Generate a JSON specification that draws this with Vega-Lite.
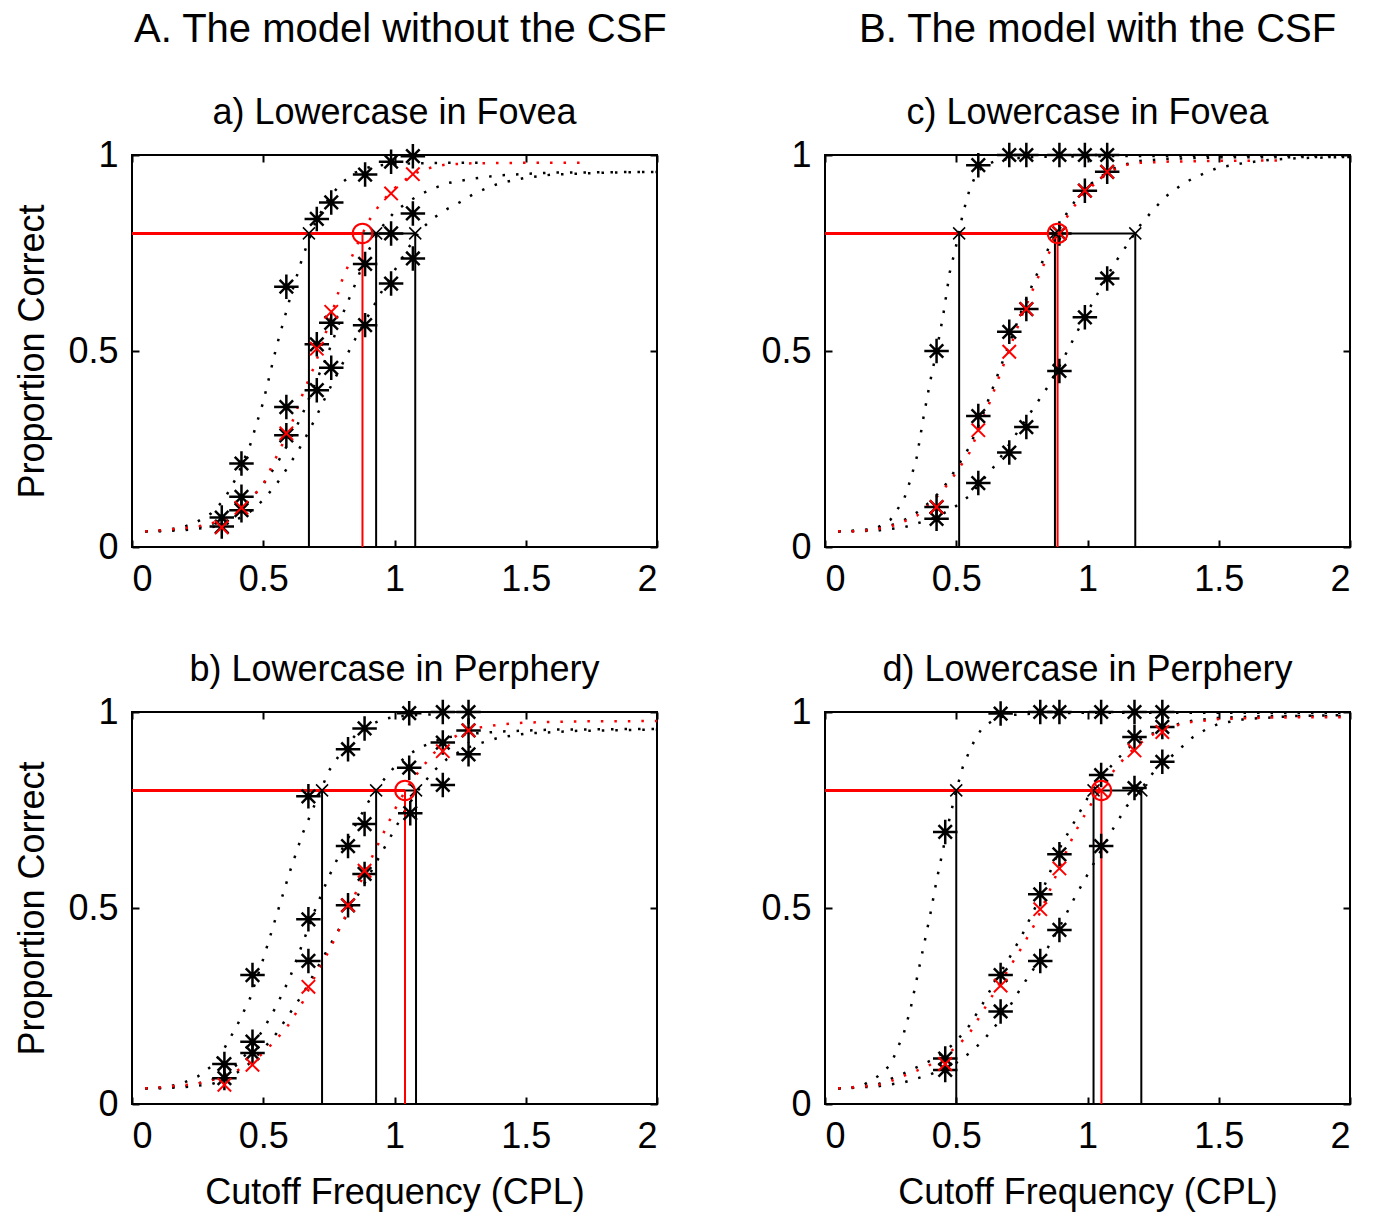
{
  "$schema": "https://vega.github.io/schema/vega-lite/v6.json",
  "background": "white",
  "padding": {"left": 13, "top": 10, "right": 10, "bottom": 3},
  "config": {
    "font": "Liberation Sans",
    "view": {"stroke": "black", "strokeWidth": 2},
    "axis": {"grid": false, "domain": false, "tickSize": -7, "tickColor": "black", "tickWidth": 2, "labelFontSize": 36, "labelColor": "black", "labelFont": "Liberation Sans", "titleFont": "Liberation Sans", "titleFontSize": 36, "titleFontWeight": "normal", "titleColor": "black", "format": "~g"},
    "axisX": {"labelPadding": 22, "titlePadding": 21},
    "axisY": {"labelPadding": 21, "titlePadding": 16},
    "title": {"fontSize": 36, "fontWeight": "normal", "color": "black", "font": "Liberation Sans", "offset": 5}
  },
  "datasets": {
    "thr": [
      {"p":"a","c":"k","x":0.674,"base":0,"crit":0.8},{"p":"a","c":"k","x":0.93,"base":0,"crit":0.8},{"p":"a","c":"k","x":1.079,"base":0,"crit":0.8},{"p":"a","c":"r","x":0.878,"base":0,"crit":0.8},
      {"p":"b","c":"k","x":0.724,"base":0,"crit":0.8},{"p":"b","c":"k","x":0.93,"base":0,"crit":0.8},{"p":"b","c":"k","x":1.082,"base":0,"crit":0.8},{"p":"b","c":"r","x":1.04,"base":0,"crit":0.8},
      {"p":"c","c":"k","x":0.511,"base":0,"crit":0.8},{"p":"c","c":"k","x":0.876,"base":0,"crit":0.8},{"p":"c","c":"k","x":1.182,"base":0,"crit":0.8},{"p":"c","c":"r","x":0.886,"base":0,"crit":0.8},
      {"p":"d","c":"k","x":0.5,"base":0,"crit":0.8},{"p":"d","c":"k","x":1.023,"base":0,"crit":0.8},{"p":"d","c":"k","x":1.205,"base":0,"crit":0.8},{"p":"d","c":"r","x":1.053,"base":0,"crit":0.8}
    ],
    "pts": [
      {"p":"a","c":"k","x":0.342,"y":0.075},{"p":"a","c":"k","x":0.342,"y":0.052},
      {"p":"a","c":"k","x":0.417,"y":0.213},{"p":"a","c":"k","x":0.417,"y":0.128},{"p":"a","c":"k","x":0.417,"y":0.094},
      {"p":"a","c":"k","x":0.588,"y":0.664},{"p":"a","c":"k","x":0.588,"y":0.357},{"p":"a","c":"k","x":0.588,"y":0.285},
      {"p":"a","c":"k","x":0.704,"y":0.837},{"p":"a","c":"k","x":0.704,"y":0.517},{"p":"a","c":"k","x":0.704,"y":0.4},
      {"p":"a","c":"k","x":0.759,"y":0.879},{"p":"a","c":"k","x":0.759,"y":0.572},{"p":"a","c":"k","x":0.759,"y":0.457},
      {"p":"a","c":"k","x":0.888,"y":0.95},{"p":"a","c":"k","x":0.888,"y":0.722},{"p":"a","c":"k","x":0.888,"y":0.566},
      {"p":"a","c":"k","x":0.987,"y":0.983},{"p":"a","c":"k","x":0.987,"y":0.8},{"p":"a","c":"k","x":0.987,"y":0.672},
      {"p":"a","c":"k","x":1.07,"y":0.997},{"p":"a","c":"k","x":1.07,"y":0.851},{"p":"a","c":"k","x":1.07,"y":0.736},
      {"p":"a","c":"r","x":0.342,"y":0.05},{"p":"a","c":"r","x":0.417,"y":0.1},{"p":"a","c":"r","x":0.588,"y":0.29},{"p":"a","c":"r","x":0.704,"y":0.506},{"p":"a","c":"r","x":0.759,"y":0.6},{"p":"a","c":"r","x":0.987,"y":0.902},{"p":"a","c":"r","x":1.07,"y":0.951},
      {"p":"b","c":"k","x":0.352,"y":0.102},{"p":"b","c":"k","x":0.352,"y":0.066},
      {"p":"b","c":"k","x":0.459,"y":0.329},{"p":"b","c":"k","x":0.459,"y":0.159},{"p":"b","c":"k","x":0.459,"y":0.13},
      {"p":"b","c":"k","x":0.672,"y":0.785},{"p":"b","c":"k","x":0.672,"y":0.471},{"p":"b","c":"k","x":0.672,"y":0.365},
      {"p":"b","c":"k","x":0.823,"y":0.905},{"p":"b","c":"k","x":0.823,"y":0.658},{"p":"b","c":"k","x":0.823,"y":0.507},
      {"p":"b","c":"k","x":0.886,"y":0.958},{"p":"b","c":"k","x":0.886,"y":0.714},{"p":"b","c":"k","x":0.886,"y":0.587},
      {"p":"b","c":"k","x":1.056,"y":0.997},{"p":"b","c":"k","x":1.056,"y":0.858},{"p":"b","c":"k","x":1.06,"y":0.742},
      {"p":"b","c":"k","x":1.184,"y":1.0},{"p":"b","c":"k","x":1.184,"y":0.922},{"p":"b","c":"k","x":1.184,"y":0.814},
      {"p":"b","c":"k","x":1.282,"y":1.0},{"p":"b","c":"k","x":1.282,"y":0.953},{"p":"b","c":"k","x":1.282,"y":0.892},
      {"p":"b","c":"r","x":0.352,"y":0.049},{"p":"b","c":"r","x":0.459,"y":0.1},{"p":"b","c":"r","x":0.672,"y":0.299},{"p":"b","c":"r","x":0.823,"y":0.507},{"p":"b","c":"r","x":0.886,"y":0.595},{"p":"b","c":"r","x":1.184,"y":0.9},{"p":"b","c":"r","x":1.282,"y":0.953},
      {"p":"c","c":"k","x":0.425,"y":0.5},{"p":"c","c":"k","x":0.425,"y":0.102},{"p":"c","c":"k","x":0.425,"y":0.072},
      {"p":"c","c":"k","x":0.584,"y":0.974},{"p":"c","c":"k","x":0.584,"y":0.334},{"p":"c","c":"k","x":0.584,"y":0.163},
      {"p":"c","c":"k","x":0.702,"y":1.0},{"p":"c","c":"k","x":0.702,"y":0.549},{"p":"c","c":"k","x":0.702,"y":0.241},
      {"p":"c","c":"k","x":0.767,"y":1.0},{"p":"c","c":"k","x":0.767,"y":0.607},{"p":"c","c":"k","x":0.767,"y":0.306},
      {"p":"c","c":"k","x":0.893,"y":1.0},{"p":"c","c":"k","x":0.893,"y":0.8},{"p":"c","c":"k","x":0.893,"y":0.449},
      {"p":"c","c":"k","x":0.99,"y":1.0},{"p":"c","c":"k","x":0.99,"y":0.909},{"p":"c","c":"k","x":0.99,"y":0.586},
      {"p":"c","c":"k","x":1.075,"y":1.0},{"p":"c","c":"k","x":1.075,"y":0.957},{"p":"c","c":"k","x":1.075,"y":0.685},
      {"p":"c","c":"r","x":0.425,"y":0.102},{"p":"c","c":"r","x":0.584,"y":0.298},{"p":"c","c":"r","x":0.702,"y":0.498},{"p":"c","c":"r","x":0.767,"y":0.607},{"p":"c","c":"r","x":0.893,"y":0.8},{"p":"c","c":"r","x":0.99,"y":0.909},{"p":"c","c":"r","x":1.075,"y":0.957},
      {"p":"d","c":"k","x":0.458,"y":0.694},{"p":"d","c":"k","x":0.458,"y":0.116},{"p":"d","c":"k","x":0.458,"y":0.087},
      {"p":"d","c":"k","x":0.669,"y":0.996},{"p":"d","c":"k","x":0.669,"y":0.329},{"p":"d","c":"k","x":0.669,"y":0.236},
      {"p":"d","c":"k","x":0.82,"y":1.0},{"p":"d","c":"k","x":0.82,"y":0.535},{"p":"d","c":"k","x":0.82,"y":0.365},
      {"p":"d","c":"k","x":0.893,"y":1.0},{"p":"d","c":"k","x":0.893,"y":0.637},{"p":"d","c":"k","x":0.893,"y":0.444},
      {"p":"d","c":"k","x":1.052,"y":1.0},{"p":"d","c":"k","x":1.052,"y":0.839},{"p":"d","c":"k","x":1.052,"y":0.658},
      {"p":"d","c":"k","x":1.179,"y":1.0},{"p":"d","c":"k","x":1.179,"y":0.936},{"p":"d","c":"k","x":1.179,"y":0.806},
      {"p":"d","c":"k","x":1.285,"y":1.0},{"p":"d","c":"k","x":1.285,"y":0.962},{"p":"d","c":"k","x":1.285,"y":0.873},
      {"p":"d","c":"r","x":0.458,"y":0.102},{"p":"d","c":"r","x":0.669,"y":0.302},{"p":"d","c":"r","x":0.82,"y":0.497},{"p":"d","c":"r","x":0.893,"y":0.601},{"p":"d","c":"r","x":1.052,"y":0.8},{"p":"d","c":"r","x":1.179,"y":0.902},{"p":"d","c":"r","x":1.285,"y":0.949}
    ],
    "curves": [
      {"p":"a","s":"A","x":0.05,"y":0.04},{"p":"a","s":"A","x":0.1,"y":0.042},{"p":"a","s":"A","x":0.15,"y":0.046},{"p":"a","s":"A","x":0.2,"y":0.052},{"p":"a","s":"A","x":0.25,"y":0.065},{"p":"a","s":"A","x":0.3,"y":0.085},{"p":"a","s":"A","x":0.35,"y":0.12},{"p":"a","s":"A","x":0.4,"y":0.18},{"p":"a","s":"A","x":0.45,"y":0.26},{"p":"a","s":"A","x":0.5,"y":0.37},{"p":"a","s":"A","x":0.55,"y":0.51},{"p":"a","s":"A","x":0.6,"y":0.63},{"p":"a","s":"A","x":0.65,"y":0.74},{"p":"a","s":"A","x":0.7,"y":0.83},{"p":"a","s":"A","x":0.75,"y":0.89},{"p":"a","s":"A","x":0.8,"y":0.93},{"p":"a","s":"A","x":0.85,"y":0.955},{"p":"a","s":"A","x":0.9,"y":0.968},{"p":"a","s":"A","x":0.95,"y":0.974},{"p":"a","s":"A","x":1.0,"y":0.977},{"p":"a","s":"A","x":1.1,"y":0.979},{"p":"a","s":"A","x":1.2,"y":0.98},{"p":"a","s":"A","x":1.35,"y":0.98},
      {"p":"a","s":"B","x":0.05,"y":0.04},{"p":"a","s":"B","x":0.1,"y":0.041},{"p":"a","s":"B","x":0.15,"y":0.043},{"p":"a","s":"B","x":0.2,"y":0.046},{"p":"a","s":"B","x":0.25,"y":0.05},{"p":"a","s":"B","x":0.3,"y":0.058},{"p":"a","s":"B","x":0.35,"y":0.07},{"p":"a","s":"B","x":0.4,"y":0.09},{"p":"a","s":"B","x":0.45,"y":0.12},{"p":"a","s":"B","x":0.5,"y":0.16},{"p":"a","s":"B","x":0.55,"y":0.21},{"p":"a","s":"B","x":0.6,"y":0.27},{"p":"a","s":"B","x":0.65,"y":0.34},{"p":"a","s":"B","x":0.7,"y":0.42},{"p":"a","s":"B","x":0.75,"y":0.5},{"p":"a","s":"B","x":0.8,"y":0.59},{"p":"a","s":"B","x":0.85,"y":0.67},{"p":"a","s":"B","x":0.9,"y":0.755},{"p":"a","s":"B","x":0.95,"y":0.815},{"p":"a","s":"B","x":1.0,"y":0.855},{"p":"a","s":"B","x":1.05,"y":0.88},{"p":"a","s":"B","x":1.1,"y":0.9},{"p":"a","s":"B","x":1.15,"y":0.915},{"p":"a","s":"B","x":1.2,"y":0.928},{"p":"a","s":"B","x":1.3,"y":0.94},{"p":"a","s":"B","x":1.4,"y":0.948},{"p":"a","s":"B","x":1.5,"y":0.952},{"p":"a","s":"B","x":1.6,"y":0.955},{"p":"a","s":"B","x":1.8,"y":0.956},{"p":"a","s":"B","x":2.0,"y":0.957},
      {"p":"a","s":"C","x":0.05,"y":0.04},{"p":"a","s":"C","x":0.1,"y":0.04},{"p":"a","s":"C","x":0.2,"y":0.043},{"p":"a","s":"C","x":0.3,"y":0.05},{"p":"a","s":"C","x":0.35,"y":0.058},{"p":"a","s":"C","x":0.4,"y":0.07},{"p":"a","s":"C","x":0.45,"y":0.09},{"p":"a","s":"C","x":0.5,"y":0.12},{"p":"a","s":"C","x":0.55,"y":0.16},{"p":"a","s":"C","x":0.6,"y":0.21},{"p":"a","s":"C","x":0.65,"y":0.265},{"p":"a","s":"C","x":0.7,"y":0.33},{"p":"a","s":"C","x":0.75,"y":0.4},{"p":"a","s":"C","x":0.8,"y":0.465},{"p":"a","s":"C","x":0.85,"y":0.53},{"p":"a","s":"C","x":0.9,"y":0.59},{"p":"a","s":"C","x":0.95,"y":0.65},{"p":"a","s":"C","x":1.0,"y":0.705},{"p":"a","s":"C","x":1.05,"y":0.76},{"p":"a","s":"C","x":1.1,"y":0.81},{"p":"a","s":"C","x":1.15,"y":0.84},{"p":"a","s":"C","x":1.2,"y":0.862},{"p":"a","s":"C","x":1.25,"y":0.88},{"p":"a","s":"C","x":1.3,"y":0.9},{"p":"a","s":"C","x":1.35,"y":0.915},{"p":"a","s":"C","x":1.4,"y":0.928},{"p":"a","s":"C","x":1.5,"y":0.942},{"p":"a","s":"C","x":1.6,"y":0.95},{"p":"a","s":"C","x":1.8,"y":0.955},{"p":"a","s":"C","x":2.0,"y":0.957},
      {"p":"a","s":"R","x":0.05,"y":0.04},{"p":"a","s":"R","x":0.1,"y":0.042},{"p":"a","s":"R","x":0.15,"y":0.045},{"p":"a","s":"R","x":0.2,"y":0.048},{"p":"a","s":"R","x":0.25,"y":0.052},{"p":"a","s":"R","x":0.3,"y":0.06},{"p":"a","s":"R","x":0.35,"y":0.07},{"p":"a","s":"R","x":0.4,"y":0.09},{"p":"a","s":"R","x":0.45,"y":0.12},{"p":"a","s":"R","x":0.5,"y":0.16},{"p":"a","s":"R","x":0.55,"y":0.23},{"p":"a","s":"R","x":0.6,"y":0.3},{"p":"a","s":"R","x":0.65,"y":0.39},{"p":"a","s":"R","x":0.7,"y":0.47},{"p":"a","s":"R","x":0.75,"y":0.57},{"p":"a","s":"R","x":0.8,"y":0.68},{"p":"a","s":"R","x":0.85,"y":0.76},{"p":"a","s":"R","x":0.9,"y":0.83},{"p":"a","s":"R","x":0.95,"y":0.88},{"p":"a","s":"R","x":1.0,"y":0.915},{"p":"a","s":"R","x":1.05,"y":0.942},{"p":"a","s":"R","x":1.1,"y":0.96},{"p":"a","s":"R","x":1.15,"y":0.97},{"p":"a","s":"R","x":1.2,"y":0.976},{"p":"a","s":"R","x":1.3,"y":0.979},{"p":"a","s":"R","x":1.5,"y":0.98},{"p":"a","s":"R","x":1.72,"y":0.98},
      {"p":"b","s":"A","x":0.05,"y":0.04},{"p":"b","s":"A","x":0.1,"y":0.042},{"p":"b","s":"A","x":0.15,"y":0.046},{"p":"b","s":"A","x":0.2,"y":0.055},{"p":"b","s":"A","x":0.25,"y":0.07},{"p":"b","s":"A","x":0.3,"y":0.095},{"p":"b","s":"A","x":0.35,"y":0.14},{"p":"b","s":"A","x":0.4,"y":0.2},{"p":"b","s":"A","x":0.45,"y":0.27},{"p":"b","s":"A","x":0.5,"y":0.37},{"p":"b","s":"A","x":0.55,"y":0.48},{"p":"b","s":"A","x":0.6,"y":0.59},{"p":"b","s":"A","x":0.65,"y":0.69},{"p":"b","s":"A","x":0.7,"y":0.77},{"p":"b","s":"A","x":0.75,"y":0.85},{"p":"b","s":"A","x":0.8,"y":0.9},{"p":"b","s":"A","x":0.85,"y":0.94},{"p":"b","s":"A","x":0.9,"y":0.965},{"p":"b","s":"A","x":0.95,"y":0.98},{"p":"b","s":"A","x":1.0,"y":0.988},{"p":"b","s":"A","x":1.1,"y":0.993},{"p":"b","s":"A","x":1.2,"y":0.995},
      {"p":"b","s":"B","x":0.05,"y":0.04},{"p":"b","s":"B","x":0.1,"y":0.041},{"p":"b","s":"B","x":0.2,"y":0.045},{"p":"b","s":"B","x":0.3,"y":0.06},{"p":"b","s":"B","x":0.35,"y":0.075},{"p":"b","s":"B","x":0.4,"y":0.1},{"p":"b","s":"B","x":0.45,"y":0.14},{"p":"b","s":"B","x":0.5,"y":0.19},{"p":"b","s":"B","x":0.55,"y":0.25},{"p":"b","s":"B","x":0.6,"y":0.32},{"p":"b","s":"B","x":0.65,"y":0.41},{"p":"b","s":"B","x":0.7,"y":0.5},{"p":"b","s":"B","x":0.75,"y":0.58},{"p":"b","s":"B","x":0.8,"y":0.65},{"p":"b","s":"B","x":0.85,"y":0.71},{"p":"b","s":"B","x":0.9,"y":0.77},{"p":"b","s":"B","x":0.95,"y":0.82},{"p":"b","s":"B","x":1.0,"y":0.86},{"p":"b","s":"B","x":1.05,"y":0.89},{"p":"b","s":"B","x":1.1,"y":0.91},{"p":"b","s":"B","x":1.15,"y":0.925},{"p":"b","s":"B","x":1.2,"y":0.935},{"p":"b","s":"B","x":1.3,"y":0.945},{"p":"b","s":"B","x":1.4,"y":0.95},{"p":"b","s":"B","x":1.6,"y":0.955},{"p":"b","s":"B","x":2.0,"y":0.957},
      {"p":"b","s":"C","x":0.05,"y":0.04},{"p":"b","s":"C","x":0.1,"y":0.04},{"p":"b","s":"C","x":0.2,"y":0.043},{"p":"b","s":"C","x":0.3,"y":0.05},{"p":"b","s":"C","x":0.35,"y":0.062},{"p":"b","s":"C","x":0.4,"y":0.08},{"p":"b","s":"C","x":0.45,"y":0.105},{"p":"b","s":"C","x":0.5,"y":0.14},{"p":"b","s":"C","x":0.55,"y":0.18},{"p":"b","s":"C","x":0.6,"y":0.23},{"p":"b","s":"C","x":0.65,"y":0.28},{"p":"b","s":"C","x":0.7,"y":0.34},{"p":"b","s":"C","x":0.75,"y":0.4},{"p":"b","s":"C","x":0.8,"y":0.46},{"p":"b","s":"C","x":0.85,"y":0.52},{"p":"b","s":"C","x":0.9,"y":0.58},{"p":"b","s":"C","x":0.95,"y":0.64},{"p":"b","s":"C","x":1.0,"y":0.7},{"p":"b","s":"C","x":1.05,"y":0.76},{"p":"b","s":"C","x":1.1,"y":0.81},{"p":"b","s":"C","x":1.15,"y":0.85},{"p":"b","s":"C","x":1.2,"y":0.88},{"p":"b","s":"C","x":1.25,"y":0.9},{"p":"b","s":"C","x":1.3,"y":0.915},{"p":"b","s":"C","x":1.4,"y":0.935},{"p":"b","s":"C","x":1.5,"y":0.945},{"p":"b","s":"C","x":1.7,"y":0.952},{"p":"b","s":"C","x":2.0,"y":0.955},
      {"p":"b","s":"R","x":0.05,"y":0.04},{"p":"b","s":"R","x":0.1,"y":0.042},{"p":"b","s":"R","x":0.15,"y":0.045},{"p":"b","s":"R","x":0.2,"y":0.048},{"p":"b","s":"R","x":0.25,"y":0.052},{"p":"b","s":"R","x":0.3,"y":0.06},{"p":"b","s":"R","x":0.35,"y":0.07},{"p":"b","s":"R","x":0.4,"y":0.085},{"p":"b","s":"R","x":0.45,"y":0.105},{"p":"b","s":"R","x":0.5,"y":0.13},{"p":"b","s":"R","x":0.55,"y":0.165},{"p":"b","s":"R","x":0.6,"y":0.205},{"p":"b","s":"R","x":0.65,"y":0.26},{"p":"b","s":"R","x":0.7,"y":0.33},{"p":"b","s":"R","x":0.75,"y":0.39},{"p":"b","s":"R","x":0.8,"y":0.46},{"p":"b","s":"R","x":0.85,"y":0.535},{"p":"b","s":"R","x":0.9,"y":0.61},{"p":"b","s":"R","x":0.95,"y":0.68},{"p":"b","s":"R","x":1.0,"y":0.75},{"p":"b","s":"R","x":1.05,"y":0.81},{"p":"b","s":"R","x":1.1,"y":0.855},{"p":"b","s":"R","x":1.15,"y":0.895},{"p":"b","s":"R","x":1.2,"y":0.925},{"p":"b","s":"R","x":1.25,"y":0.945},{"p":"b","s":"R","x":1.3,"y":0.958},{"p":"b","s":"R","x":1.4,"y":0.968},{"p":"b","s":"R","x":1.5,"y":0.973},{"p":"b","s":"R","x":1.7,"y":0.976},{"p":"b","s":"R","x":2.0,"y":0.977},
      {"p":"c","s":"A","x":0.05,"y":0.04},{"p":"c","s":"A","x":0.1,"y":0.041},{"p":"c","s":"A","x":0.15,"y":0.043},{"p":"c","s":"A","x":0.2,"y":0.05},{"p":"c","s":"A","x":0.25,"y":0.07},{"p":"c","s":"A","x":0.3,"y":0.12},{"p":"c","s":"A","x":0.325,"y":0.17},{"p":"c","s":"A","x":0.35,"y":0.23},{"p":"c","s":"A","x":0.375,"y":0.33},{"p":"c","s":"A","x":0.4,"y":0.42},{"p":"c","s":"A","x":0.425,"y":0.5},{"p":"c","s":"A","x":0.45,"y":0.59},{"p":"c","s":"A","x":0.475,"y":0.7},{"p":"c","s":"A","x":0.5,"y":0.77},{"p":"c","s":"A","x":0.525,"y":0.85},{"p":"c","s":"A","x":0.55,"y":0.91},{"p":"c","s":"A","x":0.575,"y":0.95},{"p":"c","s":"A","x":0.6,"y":0.97},{"p":"c","s":"A","x":0.65,"y":0.985},{"p":"c","s":"A","x":0.7,"y":0.99},{"p":"c","s":"A","x":0.8,"y":0.995},{"p":"c","s":"A","x":1.0,"y":0.997},{"p":"c","s":"A","x":1.5,"y":0.998},{"p":"c","s":"A","x":2.0,"y":0.998},
      {"p":"c","s":"B","x":0.05,"y":0.04},{"p":"c","s":"B","x":0.1,"y":0.041},{"p":"c","s":"B","x":0.15,"y":0.043},{"p":"c","s":"B","x":0.2,"y":0.048},{"p":"c","s":"B","x":0.25,"y":0.055},{"p":"c","s":"B","x":0.3,"y":0.068},{"p":"c","s":"B","x":0.35,"y":0.088},{"p":"c","s":"B","x":0.4,"y":0.115},{"p":"c","s":"B","x":0.45,"y":0.15},{"p":"c","s":"B","x":0.5,"y":0.2},{"p":"c","s":"B","x":0.55,"y":0.255},{"p":"c","s":"B","x":0.6,"y":0.335},{"p":"c","s":"B","x":0.65,"y":0.425},{"p":"c","s":"B","x":0.7,"y":0.515},{"p":"c","s":"B","x":0.75,"y":0.605},{"p":"c","s":"B","x":0.8,"y":0.685},{"p":"c","s":"B","x":0.85,"y":0.76},{"p":"c","s":"B","x":0.9,"y":0.83},{"p":"c","s":"B","x":0.95,"y":0.88},{"p":"c","s":"B","x":1.0,"y":0.92},{"p":"c","s":"B","x":1.05,"y":0.945},{"p":"c","s":"B","x":1.1,"y":0.965},{"p":"c","s":"B","x":1.15,"y":0.977},{"p":"c","s":"B","x":1.2,"y":0.985},{"p":"c","s":"B","x":1.3,"y":0.99},{"p":"c","s":"B","x":1.5,"y":0.994},{"p":"c","s":"B","x":2.0,"y":0.995},
      {"p":"c","s":"C","x":0.05,"y":0.04},{"p":"c","s":"C","x":0.1,"y":0.04},{"p":"c","s":"C","x":0.2,"y":0.042},{"p":"c","s":"C","x":0.3,"y":0.05},{"p":"c","s":"C","x":0.4,"y":0.07},{"p":"c","s":"C","x":0.45,"y":0.085},{"p":"c","s":"C","x":0.5,"y":0.105},{"p":"c","s":"C","x":0.55,"y":0.13},{"p":"c","s":"C","x":0.6,"y":0.17},{"p":"c","s":"C","x":0.65,"y":0.21},{"p":"c","s":"C","x":0.7,"y":0.26},{"p":"c","s":"C","x":0.75,"y":0.31},{"p":"c","s":"C","x":0.8,"y":0.36},{"p":"c","s":"C","x":0.85,"y":0.41},{"p":"c","s":"C","x":0.9,"y":0.47},{"p":"c","s":"C","x":0.95,"y":0.535},{"p":"c","s":"C","x":1.0,"y":0.6},{"p":"c","s":"C","x":1.05,"y":0.66},{"p":"c","s":"C","x":1.1,"y":0.72},{"p":"c","s":"C","x":1.15,"y":0.77},{"p":"c","s":"C","x":1.2,"y":0.82},{"p":"c","s":"C","x":1.25,"y":0.86},{"p":"c","s":"C","x":1.3,"y":0.895},{"p":"c","s":"C","x":1.35,"y":0.92},{"p":"c","s":"C","x":1.4,"y":0.94},{"p":"c","s":"C","x":1.45,"y":0.955},{"p":"c","s":"C","x":1.5,"y":0.968},{"p":"c","s":"C","x":1.6,"y":0.98},{"p":"c","s":"C","x":1.7,"y":0.988},{"p":"c","s":"C","x":1.8,"y":0.992},{"p":"c","s":"C","x":2.0,"y":0.995},
      {"p":"c","s":"R","x":0.05,"y":0.04},{"p":"c","s":"R","x":0.1,"y":0.04},{"p":"c","s":"R","x":0.15,"y":0.042},{"p":"c","s":"R","x":0.2,"y":0.046},{"p":"c","s":"R","x":0.25,"y":0.052},{"p":"c","s":"R","x":0.3,"y":0.065},{"p":"c","s":"R","x":0.35,"y":0.08},{"p":"c","s":"R","x":0.4,"y":0.11},{"p":"c","s":"R","x":0.45,"y":0.145},{"p":"c","s":"R","x":0.5,"y":0.19},{"p":"c","s":"R","x":0.55,"y":0.24},{"p":"c","s":"R","x":0.6,"y":0.32},{"p":"c","s":"R","x":0.65,"y":0.41},{"p":"c","s":"R","x":0.7,"y":0.5},{"p":"c","s":"R","x":0.75,"y":0.59},{"p":"c","s":"R","x":0.8,"y":0.67},{"p":"c","s":"R","x":0.85,"y":0.745},{"p":"c","s":"R","x":0.9,"y":0.82},{"p":"c","s":"R","x":0.95,"y":0.87},{"p":"c","s":"R","x":1.0,"y":0.91},{"p":"c","s":"R","x":1.05,"y":0.94},{"p":"c","s":"R","x":1.1,"y":0.962},{"p":"c","s":"R","x":1.15,"y":0.975},{"p":"c","s":"R","x":1.2,"y":0.98},{"p":"c","s":"R","x":1.3,"y":0.983},{"p":"c","s":"R","x":1.5,"y":0.985},{"p":"c","s":"R","x":1.74,"y":0.986},
      {"p":"d","s":"A","x":0.05,"y":0.04},{"p":"d","s":"A","x":0.1,"y":0.042},{"p":"d","s":"A","x":0.15,"y":0.05},{"p":"d","s":"A","x":0.2,"y":0.07},{"p":"d","s":"A","x":0.25,"y":0.1},{"p":"d","s":"A","x":0.3,"y":0.18},{"p":"d","s":"A","x":0.325,"y":0.24},{"p":"d","s":"A","x":0.35,"y":0.32},{"p":"d","s":"A","x":0.375,"y":0.4},{"p":"d","s":"A","x":0.4,"y":0.48},{"p":"d","s":"A","x":0.425,"y":0.57},{"p":"d","s":"A","x":0.45,"y":0.65},{"p":"d","s":"A","x":0.475,"y":0.73},{"p":"d","s":"A","x":0.5,"y":0.8},{"p":"d","s":"A","x":0.525,"y":0.86},{"p":"d","s":"A","x":0.55,"y":0.9},{"p":"d","s":"A","x":0.575,"y":0.935},{"p":"d","s":"A","x":0.6,"y":0.96},{"p":"d","s":"A","x":0.65,"y":0.983},{"p":"d","s":"A","x":0.7,"y":0.992},{"p":"d","s":"A","x":0.8,"y":0.996},{"p":"d","s":"A","x":1.0,"y":0.998},{"p":"d","s":"A","x":2.0,"y":0.998},
      {"p":"d","s":"B","x":0.05,"y":0.04},{"p":"d","s":"B","x":0.1,"y":0.041},{"p":"d","s":"B","x":0.2,"y":0.05},{"p":"d","s":"B","x":0.3,"y":0.078},{"p":"d","s":"B","x":0.4,"y":0.11},{"p":"d","s":"B","x":0.45,"y":0.13},{"p":"d","s":"B","x":0.5,"y":0.16},{"p":"d","s":"B","x":0.55,"y":0.2},{"p":"d","s":"B","x":0.6,"y":0.255},{"p":"d","s":"B","x":0.65,"y":0.315},{"p":"d","s":"B","x":0.7,"y":0.37},{"p":"d","s":"B","x":0.75,"y":0.43},{"p":"d","s":"B","x":0.8,"y":0.5},{"p":"d","s":"B","x":0.85,"y":0.58},{"p":"d","s":"B","x":0.9,"y":0.66},{"p":"d","s":"B","x":0.95,"y":0.72},{"p":"d","s":"B","x":1.0,"y":0.78},{"p":"d","s":"B","x":1.05,"y":0.83},{"p":"d","s":"B","x":1.1,"y":0.87},{"p":"d","s":"B","x":1.15,"y":0.905},{"p":"d","s":"B","x":1.2,"y":0.93},{"p":"d","s":"B","x":1.3,"y":0.962},{"p":"d","s":"B","x":1.4,"y":0.978},{"p":"d","s":"B","x":1.5,"y":0.985},{"p":"d","s":"B","x":1.7,"y":0.99},{"p":"d","s":"B","x":2.0,"y":0.99},
      {"p":"d","s":"C","x":0.05,"y":0.04},{"p":"d","s":"C","x":0.1,"y":0.041},{"p":"d","s":"C","x":0.2,"y":0.045},{"p":"d","s":"C","x":0.3,"y":0.055},{"p":"d","s":"C","x":0.4,"y":0.075},{"p":"d","s":"C","x":0.5,"y":0.105},{"p":"d","s":"C","x":0.55,"y":0.13},{"p":"d","s":"C","x":0.6,"y":0.16},{"p":"d","s":"C","x":0.65,"y":0.2},{"p":"d","s":"C","x":0.7,"y":0.245},{"p":"d","s":"C","x":0.75,"y":0.3},{"p":"d","s":"C","x":0.8,"y":0.35},{"p":"d","s":"C","x":0.85,"y":0.4},{"p":"d","s":"C","x":0.9,"y":0.46},{"p":"d","s":"C","x":0.95,"y":0.525},{"p":"d","s":"C","x":1.0,"y":0.585},{"p":"d","s":"C","x":1.05,"y":0.645},{"p":"d","s":"C","x":1.1,"y":0.705},{"p":"d","s":"C","x":1.15,"y":0.76},{"p":"d","s":"C","x":1.2,"y":0.8},{"p":"d","s":"C","x":1.25,"y":0.845},{"p":"d","s":"C","x":1.3,"y":0.875},{"p":"d","s":"C","x":1.35,"y":0.905},{"p":"d","s":"C","x":1.4,"y":0.935},{"p":"d","s":"C","x":1.45,"y":0.955},{"p":"d","s":"C","x":1.5,"y":0.97},{"p":"d","s":"C","x":1.6,"y":0.982},{"p":"d","s":"C","x":1.8,"y":0.99},{"p":"d","s":"C","x":2.0,"y":0.992},
      {"p":"d","s":"R","x":0.05,"y":0.04},{"p":"d","s":"R","x":0.1,"y":0.042},{"p":"d","s":"R","x":0.15,"y":0.045},{"p":"d","s":"R","x":0.2,"y":0.048},{"p":"d","s":"R","x":0.25,"y":0.058},{"p":"d","s":"R","x":0.3,"y":0.072},{"p":"d","s":"R","x":0.35,"y":0.085},{"p":"d","s":"R","x":0.4,"y":0.1},{"p":"d","s":"R","x":0.45,"y":0.12},{"p":"d","s":"R","x":0.5,"y":0.145},{"p":"d","s":"R","x":0.55,"y":0.18},{"p":"d","s":"R","x":0.6,"y":0.235},{"p":"d","s":"R","x":0.65,"y":0.29},{"p":"d","s":"R","x":0.7,"y":0.345},{"p":"d","s":"R","x":0.75,"y":0.4},{"p":"d","s":"R","x":0.8,"y":0.46},{"p":"d","s":"R","x":0.85,"y":0.535},{"p":"d","s":"R","x":0.9,"y":0.615},{"p":"d","s":"R","x":0.95,"y":0.69},{"p":"d","s":"R","x":1.0,"y":0.75},{"p":"d","s":"R","x":1.05,"y":0.805},{"p":"d","s":"R","x":1.1,"y":0.85},{"p":"d","s":"R","x":1.15,"y":0.89},{"p":"d","s":"R","x":1.2,"y":0.92},{"p":"d","s":"R","x":1.25,"y":0.943},{"p":"d","s":"R","x":1.3,"y":0.96},{"p":"d","s":"R","x":1.4,"y":0.975},{"p":"d","s":"R","x":1.5,"y":0.982},{"p":"d","s":"R","x":1.7,"y":0.986},{"p":"d","s":"R","x":2.0,"y":0.987}
    ]
  },
  "spacing": 91,
  "hconcat": [
    {
      "title": {"text": "A. The model without the CSF", "fontSize": 40, "offset": 44, "anchor": "start", "dx": 120},
      "spacing": 53,
      "vconcat": [
        {
          "title": "a) Lowercase in Fovea", "width": 525, "height": 392,
          "resolve": {"axis": {"x": "independent", "y": "independent"}},
          "layer": [
            {"data": {"name": "curves"}, "transform": [{"filter": "datum.p == 'a'"}],
             "mark": {"type": "line", "strokeDash": [2.5, 11], "strokeWidth": 2.5, "strokeCap": "butt"},
             "encoding": {
               "x": {"field": "x", "type": "quantitative", "scale": {"domain": [0, 2]}, "axis": {"values": [0, 0.5, 1, 1.5, 2], "title": null}},
               "y": {"field": "y", "type": "quantitative", "scale": {"domain": [0, 1]}, "axis": {"values": [0, 0.5, 1], "title": "Proportion Correct"}},
               "color": {"field": "s", "type": "nominal", "scale": {"domain": ["A", "B", "C", "R"], "range": ["black", "black", "black", "red"]}, "legend": null}}},
            {"data": {"name": "thr"}, "transform": [{"filter": "datum.p == 'a' && datum.c == 'k'"}],
             "mark": {"type": "rule", "strokeWidth": 2, "color": "black"},
             "encoding": {"x": {"field": "base", "type": "quantitative", "axis": null}, "x2": {"field": "x"}, "y": {"field": "crit", "type": "quantitative", "axis": null}}},
            {"data": {"name": "thr"}, "transform": [{"filter": "datum.p == 'a' && datum.c == 'k'"}],
             "mark": {"type": "rule", "strokeWidth": 2, "color": "black"},
             "encoding": {"x": {"field": "x", "type": "quantitative", "axis": null}, "y": {"field": "base", "type": "quantitative", "axis": null}, "y2": {"field": "crit"}}},
            {"data": {"name": "thr"}, "transform": [{"filter": "datum.p == 'a' && datum.c == 'r'"}],
             "mark": {"type": "rule", "strokeWidth": 3, "color": "red"},
             "encoding": {"x": {"field": "base", "type": "quantitative", "axis": null}, "x2": {"field": "x"}, "y": {"field": "crit", "type": "quantitative", "axis": null}}},
            {"data": {"name": "thr"}, "transform": [{"filter": "datum.p == 'a' && datum.c == 'r'"}],
             "mark": {"type": "rule", "strokeWidth": 2, "color": "red"},
             "encoding": {"x": {"field": "x", "type": "quantitative", "axis": null}, "y": {"field": "base", "type": "quantitative", "axis": null}, "y2": {"field": "crit"}}},
            {"data": {"name": "pts"}, "transform": [{"filter": "datum.p == 'a' && datum.c == 'k'"}],
             "mark": {"type": "point", "shape": "M-1,0L1,0M0,-1L0,1M-0.55,-0.55L0.55,0.55M-0.55,0.55L0.55,-0.55", "size": 600, "strokeWidth": 2.5, "color": "black", "opacity": 1, "filled": false},
             "encoding": {"x": {"field": "x", "type": "quantitative", "axis": null}, "y": {"field": "y", "type": "quantitative", "axis": null}}},
            {"data": {"name": "pts"}, "transform": [{"filter": "datum.p == 'a' && datum.c == 'r'"}],
             "mark": {"type": "point", "shape": "M-1,-1L1,1M-1,1L1,-1", "size": 180, "strokeWidth": 2, "color": "red", "opacity": 1, "filled": false},
             "encoding": {"x": {"field": "x", "type": "quantitative", "axis": null}, "y": {"field": "y", "type": "quantitative", "axis": null}}},
            {"data": {"name": "thr"}, "transform": [{"filter": "datum.p == 'a' && datum.c == 'k'"}],
             "mark": {"type": "point", "shape": "M-1,-1L1,1M-1,1L1,-1", "size": 144, "strokeWidth": 1.5, "color": "black", "opacity": 1, "filled": false},
             "encoding": {"x": {"field": "x", "type": "quantitative", "axis": null}, "y": {"field": "crit", "type": "quantitative", "axis": null}}},
            {"data": {"name": "thr"}, "transform": [{"filter": "datum.p == 'a' && datum.c == 'r'"}],
             "mark": {"type": "point", "shape": "circle", "size": 380, "strokeWidth": 2, "color": "red", "opacity": 1, "filled": false},
             "encoding": {"x": {"field": "x", "type": "quantitative", "axis": {"orient": "top", "values": [0, 0.5, 1, 1.5, 2], "labels": false, "title": null}}, "y": {"field": "crit", "type": "quantitative", "axis": {"orient": "right", "values": [0, 0.5, 1], "labels": false, "title": null}}}}
          ]
        },
        {
          "title": "b) Lowercase in Perphery", "width": 525, "height": 392,
          "resolve": {"axis": {"x": "independent", "y": "independent"}},
          "layer": [
            {"data": {"name": "curves"}, "transform": [{"filter": "datum.p == 'b'"}],
             "mark": {"type": "line", "strokeDash": [2.5, 11], "strokeWidth": 2.5, "strokeCap": "butt"},
             "encoding": {
               "x": {"field": "x", "type": "quantitative", "scale": {"domain": [0, 2]}, "axis": {"values": [0, 0.5, 1, 1.5, 2], "title": "Cutoff Frequency (CPL)"}},
               "y": {"field": "y", "type": "quantitative", "scale": {"domain": [0, 1]}, "axis": {"values": [0, 0.5, 1], "title": "Proportion Correct"}},
               "color": {"field": "s", "type": "nominal", "scale": {"domain": ["A", "B", "C", "R"], "range": ["black", "black", "black", "red"]}, "legend": null}}},
            {"data": {"name": "thr"}, "transform": [{"filter": "datum.p == 'b' && datum.c == 'k'"}],
             "mark": {"type": "rule", "strokeWidth": 2, "color": "black"},
             "encoding": {"x": {"field": "base", "type": "quantitative", "axis": null}, "x2": {"field": "x"}, "y": {"field": "crit", "type": "quantitative", "axis": null}}},
            {"data": {"name": "thr"}, "transform": [{"filter": "datum.p == 'b' && datum.c == 'k'"}],
             "mark": {"type": "rule", "strokeWidth": 2, "color": "black"},
             "encoding": {"x": {"field": "x", "type": "quantitative", "axis": null}, "y": {"field": "base", "type": "quantitative", "axis": null}, "y2": {"field": "crit"}}},
            {"data": {"name": "thr"}, "transform": [{"filter": "datum.p == 'b' && datum.c == 'r'"}],
             "mark": {"type": "rule", "strokeWidth": 3, "color": "red"},
             "encoding": {"x": {"field": "base", "type": "quantitative", "axis": null}, "x2": {"field": "x"}, "y": {"field": "crit", "type": "quantitative", "axis": null}}},
            {"data": {"name": "thr"}, "transform": [{"filter": "datum.p == 'b' && datum.c == 'r'"}],
             "mark": {"type": "rule", "strokeWidth": 2, "color": "red"},
             "encoding": {"x": {"field": "x", "type": "quantitative", "axis": null}, "y": {"field": "base", "type": "quantitative", "axis": null}, "y2": {"field": "crit"}}},
            {"data": {"name": "pts"}, "transform": [{"filter": "datum.p == 'b' && datum.c == 'k'"}],
             "mark": {"type": "point", "shape": "M-1,0L1,0M0,-1L0,1M-0.55,-0.55L0.55,0.55M-0.55,0.55L0.55,-0.55", "size": 600, "strokeWidth": 2.5, "color": "black", "opacity": 1, "filled": false},
             "encoding": {"x": {"field": "x", "type": "quantitative", "axis": null}, "y": {"field": "y", "type": "quantitative", "axis": null}}},
            {"data": {"name": "pts"}, "transform": [{"filter": "datum.p == 'b' && datum.c == 'r'"}],
             "mark": {"type": "point", "shape": "M-1,-1L1,1M-1,1L1,-1", "size": 180, "strokeWidth": 2, "color": "red", "opacity": 1, "filled": false},
             "encoding": {"x": {"field": "x", "type": "quantitative", "axis": null}, "y": {"field": "y", "type": "quantitative", "axis": null}}},
            {"data": {"name": "thr"}, "transform": [{"filter": "datum.p == 'b' && datum.c == 'k'"}],
             "mark": {"type": "point", "shape": "M-1,-1L1,1M-1,1L1,-1", "size": 144, "strokeWidth": 1.5, "color": "black", "opacity": 1, "filled": false},
             "encoding": {"x": {"field": "x", "type": "quantitative", "axis": null}, "y": {"field": "crit", "type": "quantitative", "axis": null}}},
            {"data": {"name": "thr"}, "transform": [{"filter": "datum.p == 'b' && datum.c == 'r'"}],
             "mark": {"type": "point", "shape": "circle", "size": 380, "strokeWidth": 2, "color": "red", "opacity": 1, "filled": false},
             "encoding": {"x": {"field": "x", "type": "quantitative", "axis": {"orient": "top", "values": [0, 0.5, 1, 1.5, 2], "labels": false, "title": null}}, "y": {"field": "crit", "type": "quantitative", "axis": {"orient": "right", "values": [0, 0.5, 1], "labels": false, "title": null}}}}
          ]
        }
      ]
    },
    {
      "title": {"text": "B. The model with the CSF", "fontSize": 40, "offset": 44, "anchor": "start", "dx": 99},
      "spacing": 53,
      "vconcat": [
        {
          "title": "c) Lowercase in Fovea", "width": 525, "height": 392,
          "resolve": {"axis": {"x": "independent", "y": "independent"}},
          "layer": [
            {"data": {"name": "curves"}, "transform": [{"filter": "datum.p == 'c'"}],
             "mark": {"type": "line", "strokeDash": [2.5, 11], "strokeWidth": 2.5, "strokeCap": "butt"},
             "encoding": {
               "x": {"field": "x", "type": "quantitative", "scale": {"domain": [0, 2]}, "axis": {"values": [0, 0.5, 1, 1.5, 2], "title": null}},
               "y": {"field": "y", "type": "quantitative", "scale": {"domain": [0, 1]}, "axis": {"values": [0, 0.5, 1], "title": null}},
               "color": {"field": "s", "type": "nominal", "scale": {"domain": ["A", "B", "C", "R"], "range": ["black", "black", "black", "red"]}, "legend": null}}},
            {"data": {"name": "thr"}, "transform": [{"filter": "datum.p == 'c' && datum.c == 'k'"}],
             "mark": {"type": "rule", "strokeWidth": 2, "color": "black"},
             "encoding": {"x": {"field": "base", "type": "quantitative", "axis": null}, "x2": {"field": "x"}, "y": {"field": "crit", "type": "quantitative", "axis": null}}},
            {"data": {"name": "thr"}, "transform": [{"filter": "datum.p == 'c' && datum.c == 'k'"}],
             "mark": {"type": "rule", "strokeWidth": 2, "color": "black"},
             "encoding": {"x": {"field": "x", "type": "quantitative", "axis": null}, "y": {"field": "base", "type": "quantitative", "axis": null}, "y2": {"field": "crit"}}},
            {"data": {"name": "thr"}, "transform": [{"filter": "datum.p == 'c' && datum.c == 'r'"}],
             "mark": {"type": "rule", "strokeWidth": 3, "color": "red"},
             "encoding": {"x": {"field": "base", "type": "quantitative", "axis": null}, "x2": {"field": "x"}, "y": {"field": "crit", "type": "quantitative", "axis": null}}},
            {"data": {"name": "thr"}, "transform": [{"filter": "datum.p == 'c' && datum.c == 'r'"}],
             "mark": {"type": "rule", "strokeWidth": 2, "color": "red"},
             "encoding": {"x": {"field": "x", "type": "quantitative", "axis": null}, "y": {"field": "base", "type": "quantitative", "axis": null}, "y2": {"field": "crit"}}},
            {"data": {"name": "pts"}, "transform": [{"filter": "datum.p == 'c' && datum.c == 'k'"}],
             "mark": {"type": "point", "shape": "M-1,0L1,0M0,-1L0,1M-0.55,-0.55L0.55,0.55M-0.55,0.55L0.55,-0.55", "size": 600, "strokeWidth": 2.5, "color": "black", "opacity": 1, "filled": false},
             "encoding": {"x": {"field": "x", "type": "quantitative", "axis": null}, "y": {"field": "y", "type": "quantitative", "axis": null}}},
            {"data": {"name": "pts"}, "transform": [{"filter": "datum.p == 'c' && datum.c == 'r'"}],
             "mark": {"type": "point", "shape": "M-1,-1L1,1M-1,1L1,-1", "size": 180, "strokeWidth": 2, "color": "red", "opacity": 1, "filled": false},
             "encoding": {"x": {"field": "x", "type": "quantitative", "axis": null}, "y": {"field": "y", "type": "quantitative", "axis": null}}},
            {"data": {"name": "thr"}, "transform": [{"filter": "datum.p == 'c' && datum.c == 'k'"}],
             "mark": {"type": "point", "shape": "M-1,-1L1,1M-1,1L1,-1", "size": 144, "strokeWidth": 1.5, "color": "black", "opacity": 1, "filled": false},
             "encoding": {"x": {"field": "x", "type": "quantitative", "axis": null}, "y": {"field": "crit", "type": "quantitative", "axis": null}}},
            {"data": {"name": "thr"}, "transform": [{"filter": "datum.p == 'c' && datum.c == 'r'"}],
             "mark": {"type": "point", "shape": "circle", "size": 380, "strokeWidth": 2, "color": "red", "opacity": 1, "filled": false},
             "encoding": {"x": {"field": "x", "type": "quantitative", "axis": {"orient": "top", "values": [0, 0.5, 1, 1.5, 2], "labels": false, "title": null}}, "y": {"field": "crit", "type": "quantitative", "axis": {"orient": "right", "values": [0, 0.5, 1], "labels": false, "title": null}}}}
          ]
        },
        {
          "title": "d) Lowercase in Perphery", "width": 525, "height": 392,
          "resolve": {"axis": {"x": "independent", "y": "independent"}},
          "layer": [
            {"data": {"name": "curves"}, "transform": [{"filter": "datum.p == 'd'"}],
             "mark": {"type": "line", "strokeDash": [2.5, 11], "strokeWidth": 2.5, "strokeCap": "butt"},
             "encoding": {
               "x": {"field": "x", "type": "quantitative", "scale": {"domain": [0, 2]}, "axis": {"values": [0, 0.5, 1, 1.5, 2], "title": "Cutoff Frequency (CPL)"}},
               "y": {"field": "y", "type": "quantitative", "scale": {"domain": [0, 1]}, "axis": {"values": [0, 0.5, 1], "title": null}},
               "color": {"field": "s", "type": "nominal", "scale": {"domain": ["A", "B", "C", "R"], "range": ["black", "black", "black", "red"]}, "legend": null}}},
            {"data": {"name": "thr"}, "transform": [{"filter": "datum.p == 'd' && datum.c == 'k'"}],
             "mark": {"type": "rule", "strokeWidth": 2, "color": "black"},
             "encoding": {"x": {"field": "base", "type": "quantitative", "axis": null}, "x2": {"field": "x"}, "y": {"field": "crit", "type": "quantitative", "axis": null}}},
            {"data": {"name": "thr"}, "transform": [{"filter": "datum.p == 'd' && datum.c == 'k'"}],
             "mark": {"type": "rule", "strokeWidth": 2, "color": "black"},
             "encoding": {"x": {"field": "x", "type": "quantitative", "axis": null}, "y": {"field": "base", "type": "quantitative", "axis": null}, "y2": {"field": "crit"}}},
            {"data": {"name": "thr"}, "transform": [{"filter": "datum.p == 'd' && datum.c == 'r'"}],
             "mark": {"type": "rule", "strokeWidth": 3, "color": "red"},
             "encoding": {"x": {"field": "base", "type": "quantitative", "axis": null}, "x2": {"field": "x"}, "y": {"field": "crit", "type": "quantitative", "axis": null}}},
            {"data": {"name": "thr"}, "transform": [{"filter": "datum.p == 'd' && datum.c == 'r'"}],
             "mark": {"type": "rule", "strokeWidth": 2, "color": "red"},
             "encoding": {"x": {"field": "x", "type": "quantitative", "axis": null}, "y": {"field": "base", "type": "quantitative", "axis": null}, "y2": {"field": "crit"}}},
            {"data": {"name": "pts"}, "transform": [{"filter": "datum.p == 'd' && datum.c == 'k'"}],
             "mark": {"type": "point", "shape": "M-1,0L1,0M0,-1L0,1M-0.55,-0.55L0.55,0.55M-0.55,0.55L0.55,-0.55", "size": 600, "strokeWidth": 2.5, "color": "black", "opacity": 1, "filled": false},
             "encoding": {"x": {"field": "x", "type": "quantitative", "axis": null}, "y": {"field": "y", "type": "quantitative", "axis": null}}},
            {"data": {"name": "pts"}, "transform": [{"filter": "datum.p == 'd' && datum.c == 'r'"}],
             "mark": {"type": "point", "shape": "M-1,-1L1,1M-1,1L1,-1", "size": 180, "strokeWidth": 2, "color": "red", "opacity": 1, "filled": false},
             "encoding": {"x": {"field": "x", "type": "quantitative", "axis": null}, "y": {"field": "y", "type": "quantitative", "axis": null}}},
            {"data": {"name": "thr"}, "transform": [{"filter": "datum.p == 'd' && datum.c == 'k'"}],
             "mark": {"type": "point", "shape": "M-1,-1L1,1M-1,1L1,-1", "size": 144, "strokeWidth": 1.5, "color": "black", "opacity": 1, "filled": false},
             "encoding": {"x": {"field": "x", "type": "quantitative", "axis": null}, "y": {"field": "crit", "type": "quantitative", "axis": null}}},
            {"data": {"name": "thr"}, "transform": [{"filter": "datum.p == 'd' && datum.c == 'r'"}],
             "mark": {"type": "point", "shape": "circle", "size": 380, "strokeWidth": 2, "color": "red", "opacity": 1, "filled": false},
             "encoding": {"x": {"field": "x", "type": "quantitative", "axis": {"orient": "top", "values": [0, 0.5, 1, 1.5, 2], "labels": false, "title": null}}, "y": {"field": "crit", "type": "quantitative", "axis": {"orient": "right", "values": [0, 0.5, 1], "labels": false, "title": null}}}}
          ]
        }
      ]
    }
  ]
}
